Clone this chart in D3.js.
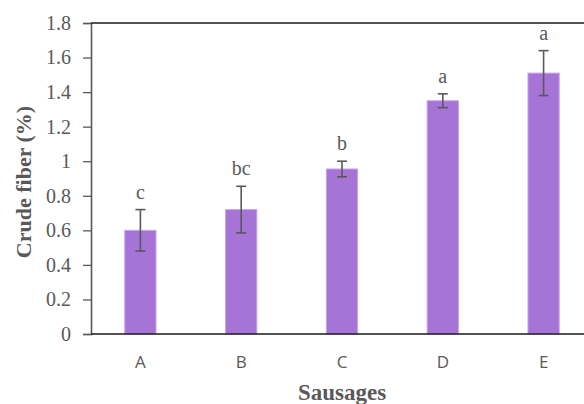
<!DOCTYPE html>
<html>
<head>
<meta charset="utf-8">
<script src="https://cdn.jsdelivr.net/npm/d3@7"></script>
<style>
  html, body { margin: 0; padding: 0; background: #fff; }
  svg { display: block; }
</style>
</head>
<body>
<svg id="chart" width="584" height="404"></svg>
<script>
// Crude fiber content of the sausage formulations (mean ± SD)
const categories = ["A", "B", "C", "D", "E"];
const means = [0.60, 0.72, 0.955, 1.35, 1.51];
const errors = [0.12, 0.135, 0.045, 0.04, 0.13];
const letters = ["c", "bc", "b", "a", "a"];
const yTicks = [0, 0.2, 0.4, 0.6, 0.8, 1, 1.2, 1.4, 1.6, 1.8];

const svg = d3.select("#chart");
const plotLeft = 91, plotTop = 23, plotBottom = 334, plotRight = 594;
const grey = "#595959";
const serif = "'Liberation Serif', 'Times New Roman', serif";

const x = d3.scaleBand().domain(categories).range([plotLeft - 1, plotRight]).padding(0);
const y = d3.scaleLinear().domain([0, 1.8]).range([plotBottom, plotTop]);
const barW = x.bandwidth() * 0.31;

// bars
svg.append("g").selectAll("rect")
  .data(categories)
  .join("rect")
  .attr("x", (d) => x(d) + x.bandwidth() / 2 - barW / 2)
  .attr("y", (d, i) => y(means[i]))
  .attr("width", barW)
  .attr("height", (d, i) => y(0) - y(means[i]))
  .attr("fill", "#a673d6")
  .attr("stroke", "#c7a4ea")
  .attr("stroke-width", 1);

// error bars
const eb = svg.append("g").attr("stroke", grey).attr("stroke-width", 1.6).attr("fill", "none");
categories.forEach((c, i) => {
  const cx = x(c) + x.bandwidth() / 2;
  const hi = y(means[i] + errors[i]);
  const lo = y(means[i] - errors[i]);
  eb.append("line").attr("x1", cx).attr("x2", cx).attr("y1", hi).attr("y2", lo);
  eb.append("line").attr("x1", cx - 5).attr("x2", cx + 5).attr("y1", hi).attr("y2", hi);
  eb.append("line").attr("x1", cx - 5).attr("x2", cx + 5).attr("y1", lo).attr("y2", lo);
});

// significance letters
svg.append("g").selectAll("text")
  .data(categories)
  .join("text")
  .attr("x", (d) => x(d) + x.bandwidth() / 2)
  .attr("y", (d, i) => y(means[i] + errors[i]) - 11)
  .attr("text-anchor", "middle")
  .attr("font-family", serif)
  .attr("font-size", 20)
  .attr("fill", grey)
  .text((d, i) => letters[i]);

// y axis
const yAxis = svg.append("g")
  .attr("transform", `translate(${plotLeft},0)`)
  .call(d3.axisLeft(y).tickValues(yTicks).tickSize(8).tickPadding(12).tickFormat(d3.format("~g")));
yAxis.select(".domain").attr("stroke", grey).attr("stroke-width", 1.6);
yAxis.selectAll(".tick line").attr("stroke", grey).attr("stroke-width", 1.3);
yAxis.selectAll(".tick text")
  .attr("font-family", serif)
  .attr("font-size", 20)
  .attr("fill", grey);

// frame top line
svg.append("line")
  .attr("x1", plotLeft).attr("x2", 584).attr("y1", plotTop).attr("y2", plotTop)
  .attr("stroke", "#1a1a1a").attr("stroke-width", 1.6);

// x axis
const xAxis = svg.append("g")
  .attr("transform", `translate(0,${plotBottom})`)
  .call(d3.axisBottom(x).tickSize(0).tickPadding(22));
xAxis.select(".domain").remove();
xAxis.append("line").attr("x1", plotLeft).attr("x2", 584).attr("y1", 0).attr("y2", 0)
  .attr("stroke", "#1a1a1a").attr("stroke-width", 1.6);
xAxis.selectAll(".tick text")
  .attr("font-family", "'Open Sans', sans-serif")
  .attr("font-size", 17)
  .attr("fill", grey);

// axis titles
svg.append("text")
  .attr("x", 342).attr("y", 400)
  .attr("text-anchor", "middle")
  .attr("font-family", serif)
  .attr("font-weight", "bold")
  .attr("font-size", 23)
  .attr("fill", grey)
  .text("Sausages");

svg.append("text")
  .attr("transform", "translate(31,182) rotate(-90)")
  .attr("text-anchor", "middle")
  .attr("font-family", serif)
  .attr("font-weight", "bold")
  .attr("font-size", 22)
  .attr("fill", grey)
  .text("Crude fiber (%)");
</script>
</body>
</html>
